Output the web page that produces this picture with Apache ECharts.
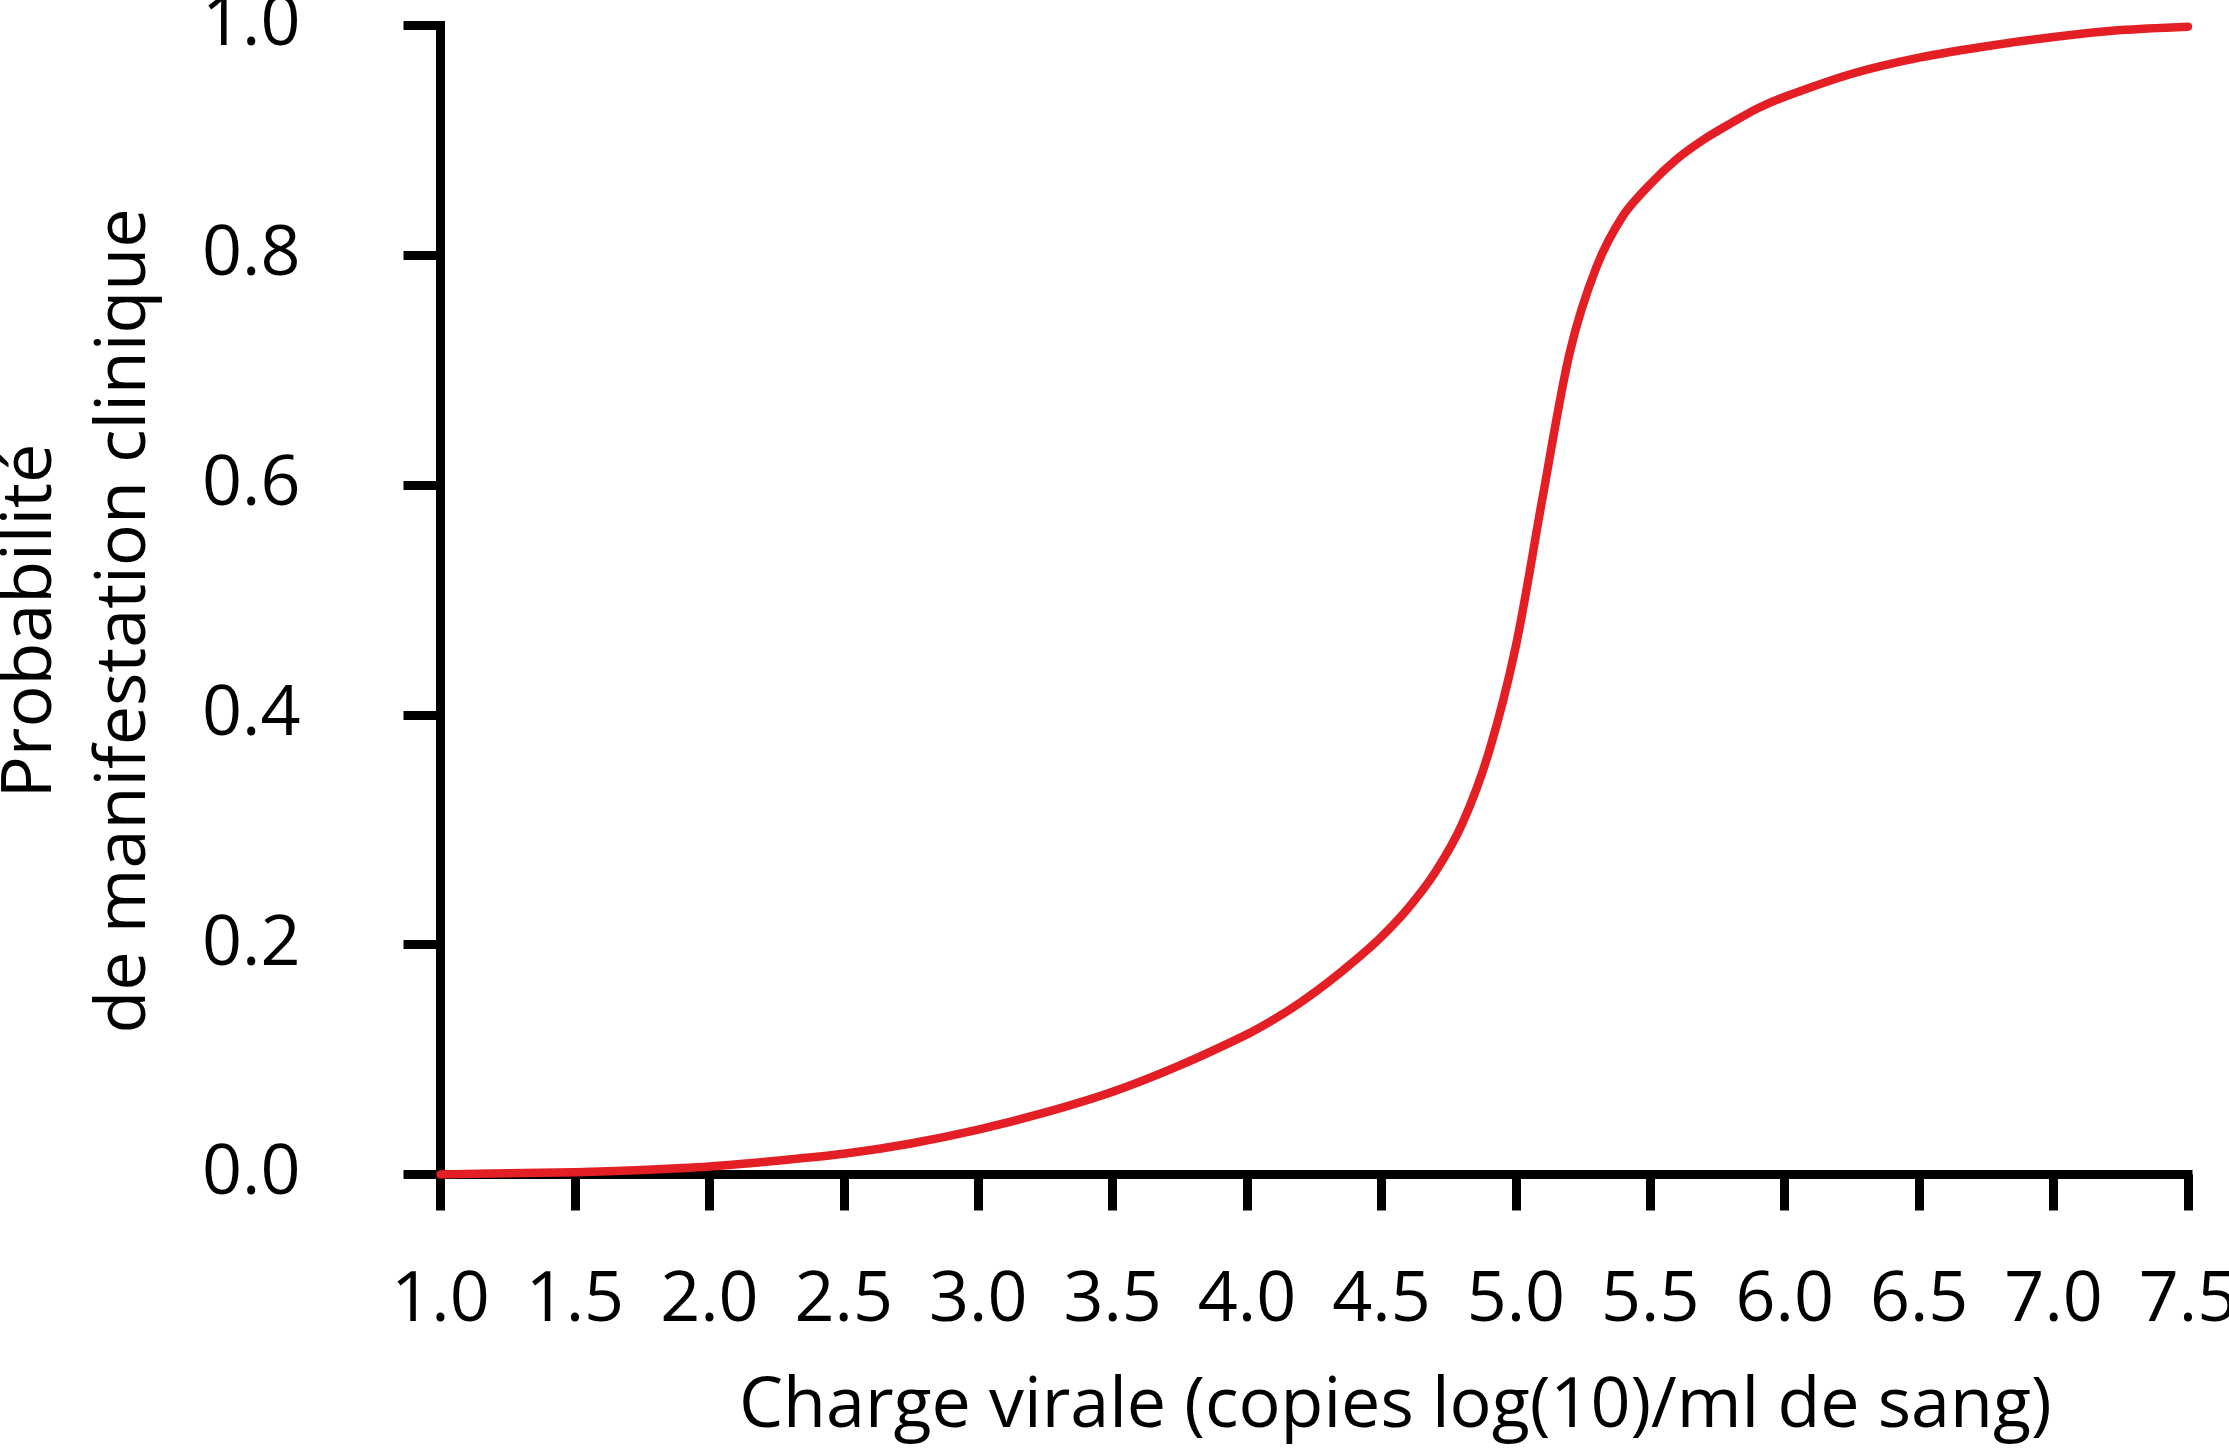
<!DOCTYPE html>
<html>
<head>
<meta charset="utf-8">
<style>
  html, body { margin: 0; padding: 0; background: #ffffff; }
  #chart { width: 2229px; height: 1453px; }
</style>
<script src="https://cdn.jsdelivr.net/npm/echarts@6/dist/echarts.min.js"></script>
</head>
<body>
<div id="chart"></div>
<script>
// Viral load (log10 copies/ml) and probability of clinical manifestation
const viralLoad = [1.0, 1.25, 1.5, 1.75, 2.0, 2.25, 2.5, 2.75, 3.0, 3.25, 3.5, 3.75,
  4.0, 4.1, 4.2, 4.3, 4.4, 4.5, 4.6, 4.7, 4.8, 4.9, 5.0, 5.1, 5.2, 5.3, 5.4, 5.5, 5.6, 5.7, 5.8, 5.9, 6.0,
  6.25, 6.5, 6.75, 7.0, 7.25, 7.5];
const probability = [0.0, 0.001, 0.002, 0.004, 0.007, 0.012, 0.018, 0.027, 0.039, 0.054, 0.072, 0.095,
  0.122, 0.135, 0.150, 0.167, 0.186, 0.207, 0.232, 0.263, 0.305, 0.368, 0.46, 0.59, 0.715, 0.79, 0.835, 0.862, 0.884, 0.901, 0.915, 0.928, 0.938,
  0.958, 0.972, 0.982, 0.99, 0.996, 0.999];

const xTitle = 'Charge virale (copies log(10)/ml de sang)';
const yTitle = 'Probabilité\nde manifestation clinique';

const FONT = 'Open Sans';
const chart = echarts.init(document.getElementById('chart'), null, { renderer: 'canvas' });

chart.setOption({
  backgroundColor: '#ffffff',
  animation: false,
  grid: { left: 440.5, right: 41, top: 25.5, bottom: 278.5, containLabel: false, outerBoundsMode: 'none' },
  xAxis: {
    type: 'value',
    min: 1.0,
    max: 7.5,
    interval: 0.5,
    name: xTitle,
    nameLocation: 'middle',
    nameGap: 198,
    nameTextStyle: { fontFamily: FONT, fontSize: 70, color: '#000', padding: [0, 0, 0, 162] },
    axisLine: { show: true, onZero: false, lineStyle: { color: '#000', width: 9, cap: 'square' } },
    axisTick: { show: true, length: 36, lineStyle: { color: '#000', width: 9 } },
    axisLabel: {
      margin: 92,
      fontFamily: FONT, fontSize: 70, color: '#000',
      formatter: v => v.toFixed(1)
    },
    splitLine: { show: false }
  },
  yAxis: {
    type: 'value',
    min: 0,
    max: 1,
    interval: 0.2,
    name: yTitle,
    nameLocation: 'middle',
    nameRotate: 90,
    nameGap: 268,
    nameTextStyle: { fontFamily: FONT, fontSize: 70, color: '#000', lineHeight: 94, padding: [0, 42, 0, 0] },
    axisLine: { show: true, lineStyle: { color: '#000', width: 9, cap: 'square' } },
    axisTick: { show: true, length: 37, lineStyle: { color: '#000', width: 9 } },
    axisLabel: {
      margin: 140,
      fontFamily: FONT, fontSize: 70, color: '#000',
      formatter: v => v.toFixed(1)
    },
    splitLine: { show: false }
  },
  series: [{
    type: 'line',
    data: viralLoad.map((x, i) => [x, probability[i]]),
    smooth: 0.3,
    showSymbol: false,
    lineStyle: { color: '#E31E24', width: 8.5, cap: 'round', join: 'round' },
    z: 5
  }]
});
</script>
</body>
</html>
